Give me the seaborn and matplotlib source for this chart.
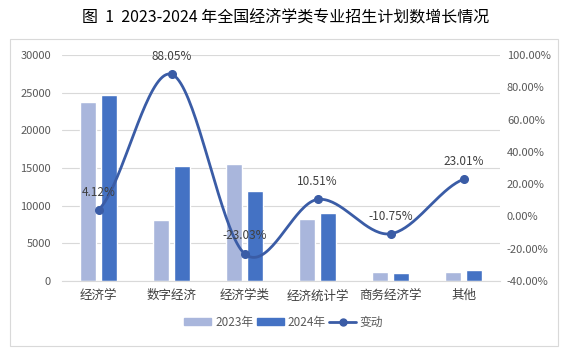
import numpy as np
import pandas as pd
import seaborn as sns
import matplotlib.pyplot as plt
from matplotlib.patches import Rectangle
from matplotlib.lines import Line2D
from matplotlib.ticker import FuncFormatter, MultipleLocator

# data
categories = ['经济学', '数字经济', '经济学类', '经济统计学', '商务经济学', '其他']
plan_2023 = [23720, 8100, 15540, 8180, 1200, 1200]
plan_2024 = [24700, 15230, 11960, 9040, 1070, 1476]
change_pct = [4.12, 88.05, -23.03, 10.51, -10.75, 23.01]

sns.set_style('white')
plt.rcParams['font.family'] = ['Noto Sans CJK SC', 'DejaVu Sans']

c23 = '#A9B6DC'
c24 = '#4472C4'
cline = '#3A5CA6'
grey = '#595959'

df = pd.DataFrame({'cat': categories * 2,
                   'val': plan_2023 + plan_2024,
                   'year': ['2023年'] * 6 + ['2024年'] * 6})

fig = plt.figure(figsize=(5.71, 3.52), dpi=100)
ax = fig.add_axes([0.1086, 0.2017, 0.7671, 0.6421])

sns.barplot(data=df, x='cat', y='val', hue='year', palette=[c23, c24],
            width=0.576, gap=0.236, saturation=1, ax=ax, legend=False)

ax.set_ylim(0, 30000)
ax.yaxis.set_major_locator(MultipleLocator(5000))
ax.grid(axis='y', color='#D9D9D9', lw=0.8)
ax.set_axisbelow(True)
ax.set_xlabel('')
ax.set_ylabel('')
ax.set_xlim(-0.5, 5.5)
for s in ['top', 'right', 'left']:
    ax.spines[s].set_visible(False)
ax.spines['bottom'].set_color('#D9D9D9')
ax.tick_params(axis='y', length=0, labelsize=8, labelcolor=grey, pad=8)
ax.tick_params(axis='x', length=0, labelsize=9, labelcolor='#404040', pad=6)

# smooth line through the change points (Catmull-Rom)
ax2 = ax.twinx()
xs = np.arange(len(change_pct), dtype=float)
ys = np.array(change_pct, dtype=float)
px = np.concatenate([[2 * xs[0] - xs[1]], xs, [2 * xs[-1] - xs[-2]]])
py = np.concatenate([[ys[0]], ys, [ys[-1]]])
sx, sy = [], []
t = np.linspace(0, 1, 40)
for i in range(1, len(px) - 2):
    p0, p1, p2, p3 = [np.array([px[j], py[j]]) for j in range(i - 1, i + 3)]
    tt = t[:, None]
    seg = 0.5 * ((2 * p1) + (-p0 + p2) * tt + (2 * p0 - 5 * p1 + 4 * p2 - p3) * tt ** 2
                 + (-p0 + 3 * p1 - 3 * p2 + p3) * tt ** 3)
    sx.extend(seg[:, 0])
    sy.extend(seg[:, 1])
sns.lineplot(x=sx, y=sy, ax=ax2, color=cline, lw=2, sort=False, estimator=None)
ax2.plot(xs, ys, 'o', color=cline, ms=5.5)
for x, y in zip(xs, ys):
    ax2.annotate(f'{y:.2f}%', (x, y), xytext=(0, 8), textcoords='offset points',
                 ha='center', va='bottom', fontsize=8.5, color='#404040')

ax2.set_ylim(-40, 100)
ax2.yaxis.set_major_locator(MultipleLocator(20))
ax2.yaxis.set_major_formatter(FuncFormatter(lambda v, p: f'{v:.2f}%'))
ax2.tick_params(axis='y', length=0, labelsize=8, labelcolor=grey, pad=5)
for s in ax2.spines.values():
    s.set_visible(False)
ax2.grid(False)

handles = [Rectangle((0, 0), 1, 1, color=c23), Rectangle((0, 0), 1, 1, color=c24),
           Line2D([], [], color=cline, lw=2, marker='o', ms=5)]
fig.legend(handles, ['2023年', '2024年', '变动'], loc='center', bbox_to_anchor=(0.497, 0.085),
           ncol=3, frameon=False, fontsize=8.5, labelcolor=grey, handlelength=2.3,
           handleheight=0.6, columnspacing=0.3, handletextpad=0.3)

fig.text(0.5, 0.948, '图  1  2023-2024 年全国经济学类专业招生计划数增长情况',
         ha='center', va='center', fontsize=11.5, color='#000000')
fig.patches.append(Rectangle((0.0175, 0.017), 0.96, 0.872, transform=fig.transFigure,
                             fill=False, ec='#D9D9D9', lw=0.8))

fig.savefig('out.png', dpi=100)
